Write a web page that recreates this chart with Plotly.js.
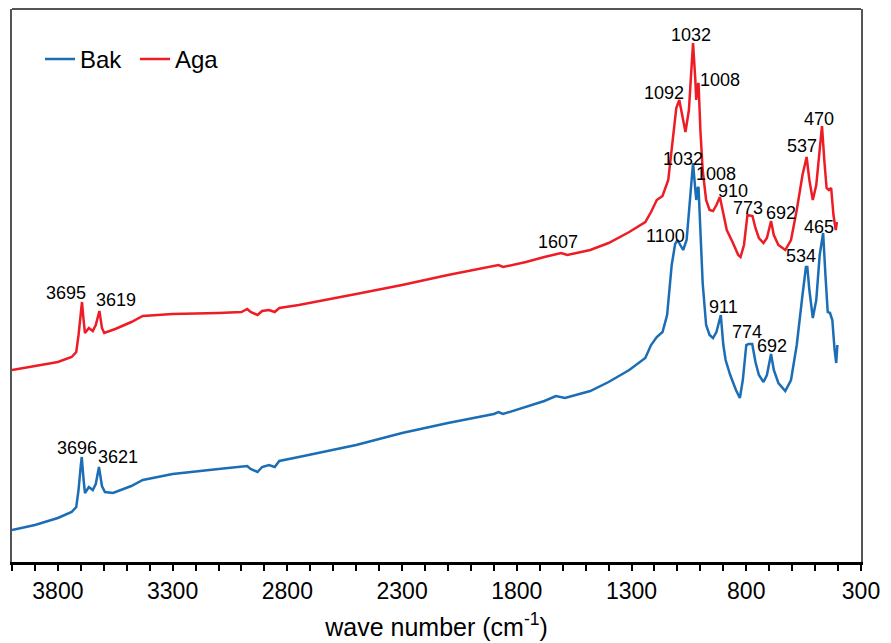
<!DOCTYPE html>
<html>
<head>
<meta charset="utf-8">
<script src="https://cdn.plot.ly/plotly-3.0.1.min.js"></script>
<style>html,body{margin:0;padding:0;background:#fff}#chart{width:891px;height:643px}</style>
</head>
<body>
<div id="chart"></div>
<script>
// Aga (red) spectrum: wavenumber (cm-1) and relative intensity (a.u.)
const agaWn = [4000,3900,3800,3740,3720,3710,3700,3695,3688,3682,3665,3648,3635,3619,3608,3598,3550,3480,3430,3300,3100,3000,2975,2960,2930,2910,2880,2855,2835,2750,2500,2300,2100,1900,1880,1860,1760,1680,1607,1580,1480,1400,1310,1240,1215,1190,1165,1140,1120,1105,1092,1075,1065,1050,1040,1032,1022,1018,1012,1008,1000,990,975,960,945,930,915,900,885,860,835,825,810,795,773,760,745,725,710,692,680,660,630,605,580,555,537,525,510,495,480,470,460,450,440,430,420,410,405];
const agaY  = [192,196,200,205,210,227,252,260,242,229,234,231,237,251,234,229,233,240,246,248,249,250,253,250,247,251,252,250,254,257,268,277,287,296,297,295,300,305,309,307,312,319,330,340,350,362,366,382,422,454,462,442,430,452,492,519,482,462,477,479,432,392,362,352,351,357,365,347,332,320,307,305,317,347,346,334,324,319,324,341,327,317,312,322,352,387,405,382,362,377,417,436,402,374,372,374,347,332,340];

// Bak (blue) spectrum
const bakWn = [4000,3900,3800,3740,3720,3710,3700,3696,3688,3682,3665,3648,3635,3621,3608,3595,3560,3480,3430,3300,3100,3000,2975,2960,2930,2910,2880,2855,2835,2750,2500,2300,2100,1900,1880,1860,1760,1680,1630,1590,1480,1400,1310,1240,1215,1190,1165,1145,1125,1110,1100,1085,1075,1060,1045,1032,1022,1018,1012,1008,1000,990,975,960,945,930,911,900,890,870,845,828,815,800,790,774,760,745,725,710,692,680,660,630,605,580,555,540,534,525,510,495,480,465,455,445,435,425,415,408,403];
const bakY  = [32,37,44,50,55,72,97,105,82,69,75,72,78,95,76,70,69,76,82,88,93,95,96,93,90,95,97,95,101,105,117,129,139,148,150,148,155,161,166,164,171,180,192,204,217,225,230,247,297,318,322,315,312,322,362,399,372,362,374,375,332,279,237,227,224,230,247,217,202,187,172,164,182,217,218,218,200,187,180,187,208,192,179,171,182,217,267,295,295,272,244,262,307,329,287,250,249,242,212,199,217];

// Peak labels
const labelText = ["3695","3619","3696","3621","1607","1092","1032","1008","910","773","692","537","470","1032","1008","1100","534","465","911","774","692"];
const labelX    = [3765,3545,3718,3540,1622,1160,1040,915,858,792,650,555,482,1077,930,1150,560,482,898,798,688];
const labelY    = [269,262,114,105,320,469,527,482,371,354,349,416,443,403,388,326,306,335,255,230,216];

// Axis tick labels
const tickVals = [3800,3300,2800,2300,1800,1300,800,300];
const tickText = ["3800","3300","2800","2300","1800","1300","800","300"];

const font = "Arial, 'Liberation Sans', Helvetica, sans-serif";

const traces = [
  {x: bakWn, y: bakY, name: "Bak", type: "scatter", mode: "lines",
   line: {color: "#1b6db5", width: 2.5}},
  {x: agaWn, y: agaY, name: "Aga", type: "scatter", mode: "lines",
   line: {color: "#ee1c25", width: 2.5}}
];

const annotations = labelText.map((t, i) => ({
  x: labelX[i], y: labelY[i], xref: "x", yref: "y", text: t, showarrow: false,
  font: {family: font, size: 18, color: "#000"}
}));

const layout = {
  width: 891, height: 643,
  margin: {l: 12, r: 30, t: 9, b: 81},
  paper_bgcolor: "#fff", plot_bgcolor: "#fff",
  showlegend: true,
  legend: {orientation: "h", x: 0.033, y: 0.909, xanchor: "left", yanchor: "middle",
           font: {family: font, size: 24, color: "#000"}, bgcolor: "rgba(0,0,0,0)",
           itemwidth: 30, tracegroupgap: 0, entrywidth: 50},
  xaxis: {range: [4000, 300], autorange: false, showgrid: false, zeroline: false,
          tickmode: "array", tickvals: tickVals, ticktext: tickText,
          ticks: "outside", ticklen: 6, tickwidth: 2, tickcolor: "#000",
          minor: {dtick: 100, tick0: 300, ticks: "outside", ticklen: 6, tickwidth: 2, tickcolor: "#000"},
          showline: true, linecolor: "#000", linewidth: 3,
          tickfont: {family: font, size: 23, color: "#000"},
          title: {text: "wave number (cm<sup>-1</sup>)", font: {family: font, size: 25, color: "#000"}, standoff: 16}},
  yaxis: {range: [0, 553], autorange: false, showgrid: false, zeroline: false,
          showticklabels: false, ticks: "", showline: true, linecolor: "#555", linewidth: 2, mirror: true},
  shapes: [{type: "line", xref: "paper", yref: "paper", x0: 0, x1: 1, y0: 1, y1: 1,
            line: {color: "#555", width: 2}}],
  annotations: annotations
};

Plotly.newPlot("chart", traces, layout, {displayModeBar: false, staticPlot: true});
</script>
</body>
</html>
